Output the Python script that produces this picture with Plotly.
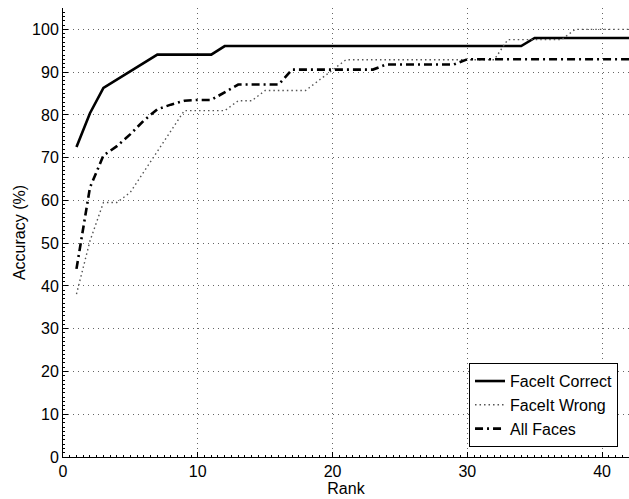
import plotly.graph_objects as go

rank = list(range(1, 43))

faceit_correct = [72.5, 80.4, 86.3, 88.2, 90.2, 92.2, 94.1, 94.1, 94.1, 94.1,
                  94.1, 96.1, 96.1, 96.1, 96.1, 96.1, 96.1, 96.1, 96.1, 96.1,
                  96.1, 96.1, 96.1, 96.1, 96.1, 96.1, 96.1, 96.1, 96.1, 96.1,
                  96.1, 96.1, 96.1, 96.1, 98.0, 98.0, 98.0, 98.0, 98.0, 98.0,
                  98.0, 98.0]

faceit_wrong = [38.1, 50.5, 59.5, 59.5, 61.9, 66.7, 71.4, 76.2, 81.0, 81.0,
                81.0, 81.0, 83.3, 83.3, 85.7, 85.7, 85.7, 85.7, 88.1, 90.5,
                92.9, 92.9, 92.9, 92.9, 92.9, 92.9, 92.9, 92.9, 92.9, 92.9,
                92.9, 92.9, 97.6, 97.6, 97.6, 97.6, 97.6, 100.0, 100.0, 100.0,
                100.0, 100.0]

all_faces = [44.0, 63.0, 70.5, 72.7, 75.5, 78.7, 81.3, 82.4, 83.3, 83.5,
             83.5, 85.3, 87.1, 87.1, 87.1, 87.1, 90.6, 90.6, 90.6, 90.6,
             90.6, 90.6, 90.6, 91.8, 91.8, 91.8, 91.8, 91.8, 91.8, 93.0,
             93.0, 93.0, 93.0, 93.0, 93.0, 93.0, 93.0, 93.0, 93.0, 93.0,
             93.0, 93.0]

x_ticks = [0, 10, 20, 30, 40]
y_ticks = [0, 10, 20, 30, 40, 50, 60, 70, 80, 90, 100]

FONT = "Liberation Sans, Arial, sans-serif"

fig = go.Figure()
fig.add_trace(go.Scatter(x=rank, y=faceit_correct, mode="lines", name="FaceIt Correct",
                         line=dict(color="black", width=2.6)))
fig.add_trace(go.Scatter(x=rank, y=faceit_wrong, mode="lines", name="FaceIt Wrong",
                         line=dict(color="#555555", width=1.4, dash="1.5px,3px")))
fig.add_trace(go.Scatter(x=rank, y=all_faces, mode="lines", name="All Faces",
                         line=dict(color="black", width=2.6, dash="8px,4px,2px,4px")))

axis_common = dict(
    showline=True, linecolor="black", linewidth=1,
    ticks="inside", ticklen=5, tickcolor="black",
    showgrid=True, gridcolor="#666666", gridwidth=1, griddash="1px,4px",
    zeroline=False, mirror=False,
    tickfont=dict(family=FONT, size=16, color="black"),
)

fig.update_xaxes(range=[0, 42], tickvals=x_ticks,
                 title=dict(text="Rank", font=dict(family=FONT, size=16, color="black"), standoff=2),
                 minor=dict(ticks="inside", ticklen=2, dtick=0.5, tickcolor="black", showgrid=False),
                 **axis_common)
fig.update_yaxes(range=[0, 105], tickvals=y_ticks,
                 title=dict(text="Accuracy (%)", font=dict(family=FONT, size=16, color="black"), standoff=2),
                 minor=dict(ticks="inside", ticklen=2, dtick=1, tickcolor="black", showgrid=False),
                 **axis_common)

fig.update_layout(
    width=629, height=499,
    margin=dict(l=62.5, r=0, t=8, b=42, autoexpand=False),
    paper_bgcolor="white", plot_bgcolor="white",
    font=dict(family=FONT, color="black"),
    legend=dict(x=0.9806, y=0.022, xanchor="right", yanchor="bottom",
                bgcolor="white", bordercolor="black", borderwidth=1,
                font=dict(family=FONT, size=16, color="black"),
                tracegroupgap=0, itemwidth=30),
    showlegend=True,
)

fig.write_html("out.html",
               config={"displayModeBar": False},
               post_script="document.body.style.margin='0px';"
                           "document.body.style.overflow='hidden';")
